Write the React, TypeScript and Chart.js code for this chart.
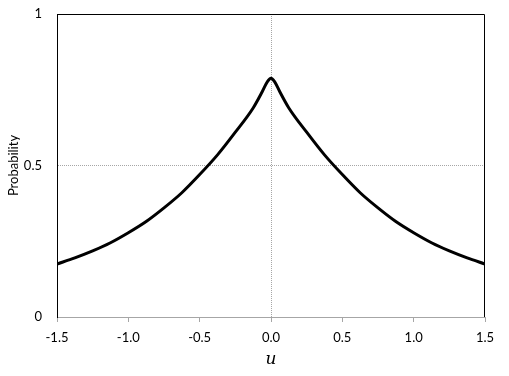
import { useEffect, useRef } from "react";
import { Chart, registerables } from "chart.js";
Chart.register(...registerables);

const uValues = [-1.5, -1.375, -1.25, -1.125, -1.0, -0.875, -0.75, -0.625, -0.5, -0.375, -0.25, -0.125, -0.06, -0.025, 0, 0.025, 0.06, 0.125, 0.25, 0.375, 0.5, 0.625, 0.75, 0.875, 1.0, 1.125, 1.25, 1.375, 1.5];
const probValues = [0.175, 0.195, 0.218, 0.245, 0.278, 0.315, 0.36, 0.41, 0.47, 0.535, 0.61, 0.69, 0.745, 0.777, 0.788, 0.777, 0.745, 0.69, 0.61, 0.535, 0.47, 0.41, 0.36, 0.315, 0.278, 0.245, 0.218, 0.195, 0.175];
const xTicks = [-1.5, -1.0, -0.5, 0.0, 0.5, 1.0, 1.5];
const yTicks = [0, 0.5, 1];

const frame = {
  id: "frame",
  afterDraw(chart: any) {
    const { ctx, chartArea: a } = chart;
    ctx.save();
    ctx.strokeStyle = "#000";
    ctx.lineWidth = 1;
    ctx.setLineDash([]);
    ctx.beginPath();
    ctx.moveTo(a.left + 0.5, a.bottom);
    ctx.lineTo(a.left + 0.5, a.top + 0.5);
    ctx.lineTo(a.right - 0.5, a.top + 0.5);
    ctx.lineTo(a.right - 0.5, a.bottom);
    ctx.stroke();
    ctx.restore();
  },
};

export default function App() {
  const ref = useRef<HTMLCanvasElement>(null);
  useEffect(() => {
    document.body.style.margin = "0";
    const chart = new Chart(ref.current!, {
      type: "line",
      data: {
        datasets: [
          {
            data: uValues.map((u, i) => ({ x: u, y: probValues[i] })),
            borderColor: "#000",
            borderWidth: 3,
            pointRadius: 0,
            cubicInterpolationMode: "monotone",
            fill: false,
          },
        ],
      },
      options: {
        animation: false,
        responsive: false,
        layout: { padding: { left: 0, right: 24, top: 14, bottom: 6 } },
        plugins: { legend: { display: false }, tooltip: { enabled: false } },
        scales: {
          x: {
            type: "linear",
            min: -1.5,
            max: 1.5,
            afterBuildTicks: (s: any) => {
              s.ticks = xTicks.map((v) => ({ value: v }));
            },
            afterFit: (s: any) => {
              s.height = 53;
              s.paddingLeft = 0;
              s.paddingRight = 0;
            },
            grid: {
              color: (c: any) => (c.tick && c.tick.value === 0 ? "#a6a6a6" : "transparent"),
              tickColor: "#a6a6a6",
              tickLength: 5,
              drawOnChartArea: true,
            },
            border: { display: true, color: "#a6a6a6", dash: [1, 1] },
            ticks: {
              color: "#000",
              font: { family: "Lato", size: 13 },
              padding: 8,
              maxRotation: 0,
              callback: (v: any) => Number(v).toFixed(1),
            },
            title: {
              display: true,
              text: "u",
              color: "#000",
              font: { family: "DejaVu Serif", size: 17, style: "italic" },
              padding: { top: 4, bottom: 0 },
            },
          },
          y: {
            type: "linear",
            min: 0,
            max: 1,
            afterBuildTicks: (s: any) => {
              s.ticks = yTicks.map((v) => ({ value: v }));
            },
            afterFit: (s: any) => {
              s.width = 57;
              s.paddingTop = 0;
              s.paddingBottom = 0;
            },
            grid: {
              color: (c: any) => (c.tick && c.tick.value === 0.5 ? "#a6a6a6" : "transparent"),
              drawTicks: false,
            },
            border: { display: true, color: "#000", dash: [1, 1] },
            ticks: {
              color: "#000",
              font: { family: "Lato", size: 13 },
              padding: 15,
              callback: (v: any) => String(v),
            },
            title: {
              display: true,
              text: "Probability",
              color: "#000",
              font: { family: "Lato", size: 13 },
              padding: { top: 6, bottom: 4 },
            },
          },
        },
      },
      plugins: [frame],
    } as any);
    return () => chart.destroy();
  }, []);
  return <canvas ref={ref} width={509} height={376} style={{ display: "block" }} />;
}
